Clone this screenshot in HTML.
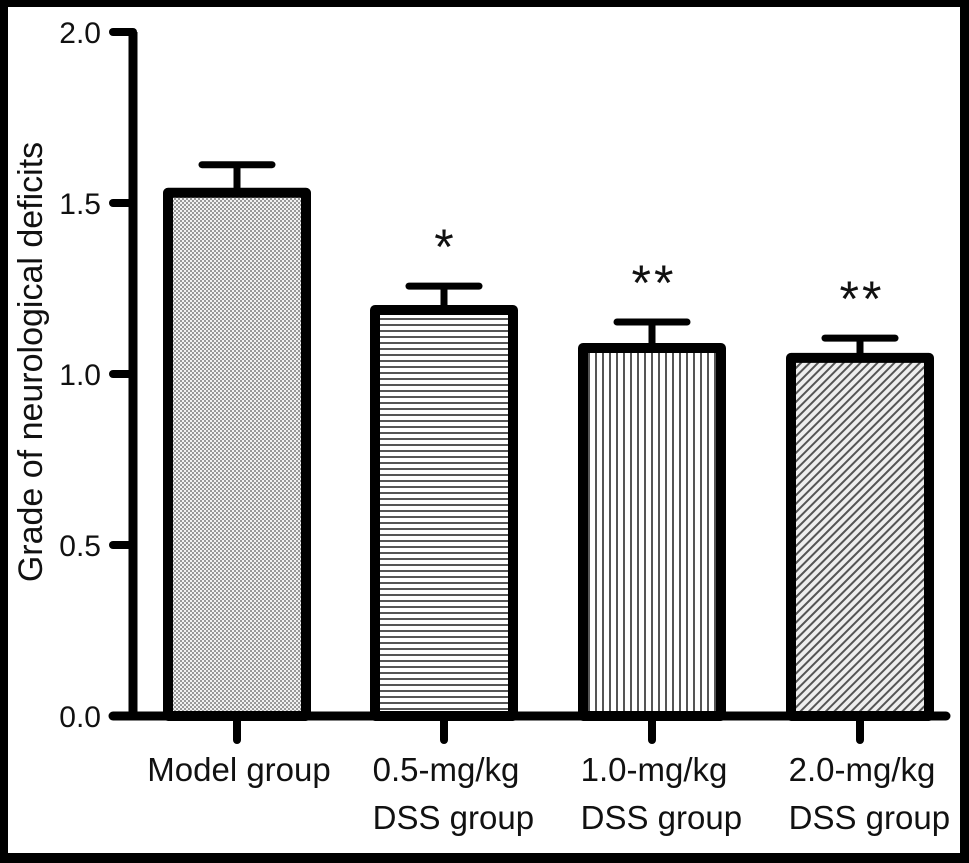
<!DOCTYPE html>
<html><head><meta charset="utf-8"><style>
html,body{margin:0;padding:0;background:#000;}
#wrap{position:absolute;left:8px;top:7px;width:952px;height:846px;background:#fff;}
svg{position:absolute;left:0;top:0;}
text{font-family:"Liberation Sans",Arial,sans-serif;fill:#111;}
</style></head><body>
<div id="wrap"></div>
<svg id="chart" width="969" height="863">
<defs>
<pattern id="pDots" width="4" height="4" patternUnits="userSpaceOnUse"><rect width="4" height="4" fill="#f2f2f2"/><rect width="2" height="2" fill="#999"/><rect x="2" y="2" width="2" height="2" fill="#999"/></pattern>
<pattern id="pH" width="6" height="6" patternUnits="userSpaceOnUse"><rect width="6" height="6" fill="#fff"/><rect y="0" width="6" height="2" fill="#555"/></pattern>
<pattern id="pV" width="7" height="7" patternUnits="userSpaceOnUse"><rect width="7" height="7" fill="#fff"/><rect x="0" width="2" height="7" fill="#555"/></pattern>
<pattern id="pD" width="6" height="6" patternUnits="userSpaceOnUse" patternTransform="rotate(45)"><rect width="6" height="6" fill="#eee"/><rect width="2" height="6" fill="#555"/></pattern>
</defs>
</svg>
<script>
const categories=["Model group","0.5-mg/kg|DSS group","1.0-mg/kg|DSS group","2.0-mg/kg|DSS group"];
const values=[1.53,1.187,1.076,1.047];
const errors=[0.082,0.07,0.076,0.058];
const stars=["","*","**","**"];
const yTicks=[0,0.5,1.0,1.5,2.0];
const yTickLabels=["0.0","0.5","1.0","1.5","2.0"];
const fills=["url(#pDots)","url(#pH)","url(#pV)","url(#pD)"];
const NS="http://www.w3.org/2000/svg";
const svg=document.getElementById('chart');
const y0=716,ppu=342;
const y=v=>y0-v*ppu;
const centers=[237,444,652,860];
const barW=138;
function mk(tag,attrs,parent){const e=document.createElementNS(NS,tag);for(const k in attrs)e.setAttribute(k,attrs[k]);(parent||svg).appendChild(e);return e;}
yTicks.forEach((t,i)=>{
  const l=mk('line',{x1:113,x2:133,y1:y(t),y2:y(t),stroke:'#000','stroke-width':8,'stroke-linecap':'round'});
  
  
  const tx=mk('text',{x:101,y:y(t)+11,'text-anchor':'end','font-size':30});
  tx.textContent=yTickLabels[i];
  
  
});
values.forEach((v,i)=>{
  const cx=centers[i];
  const e=mk('line',{x1:cx,x2:cx,y1:y(v),y2:y(v+errors[i]),stroke:'#000','stroke-width':7});
  
  
  const c=mk('line',{x1:cx-35,x2:cx+35,y1:y(v+errors[i]),y2:y(v+errors[i]),stroke:'#000','stroke-width':7,'stroke-linecap':'round'});
  
  
  const r=mk('rect',{x:cx-barW/2,y:y(v),width:barW,height:y0-y(v),fill:fills[i],stroke:'#000','stroke-width':10,'stroke-linejoin':'round'});
  
  
  if(stars[i]){const s=mk('text',{x:cx+(stars[i].length>1?2:0),y:y(v+errors[i])-22,'text-anchor':'middle','font-size':50,'letter-spacing':stars[i].length>1?3:0});s.textContent=stars[i];
    
    }
  const t=mk('line',{x1:cx,x2:cx,y1:y0,y2:740,stroke:'#000','stroke-width':8,'stroke-linecap':'round'});
  
  
  const parts=categories[i].split('|');
  const first=mk('text',{x:cx+2,y:781,'font-size':33,'text-anchor':'middle'});
  first.textContent=parts[0];
  
  
  if(parts[1]){
    const w=first.getComputedTextLength();
    const sec=mk('text',{x:cx+2-w/2,y:829,'font-size':33});
    sec.textContent=parts[1];
    
    
  }
});
const ya=mk('line',{x1:133,x2:133,y1:y(2),y2:y0,stroke:'#000','stroke-width':9});


const xa=mk('line',{x1:113,x2:946,y1:y0,y2:y0,stroke:'#000','stroke-width':9,'stroke-linecap':'round'});


const yt=mk('text',{x:0,y:0,'font-size':34,'text-anchor':'middle',transform:'translate(42,362) rotate(-90)'});
yt.textContent='Grade of neurological deficits';


</script>
</body></html>
